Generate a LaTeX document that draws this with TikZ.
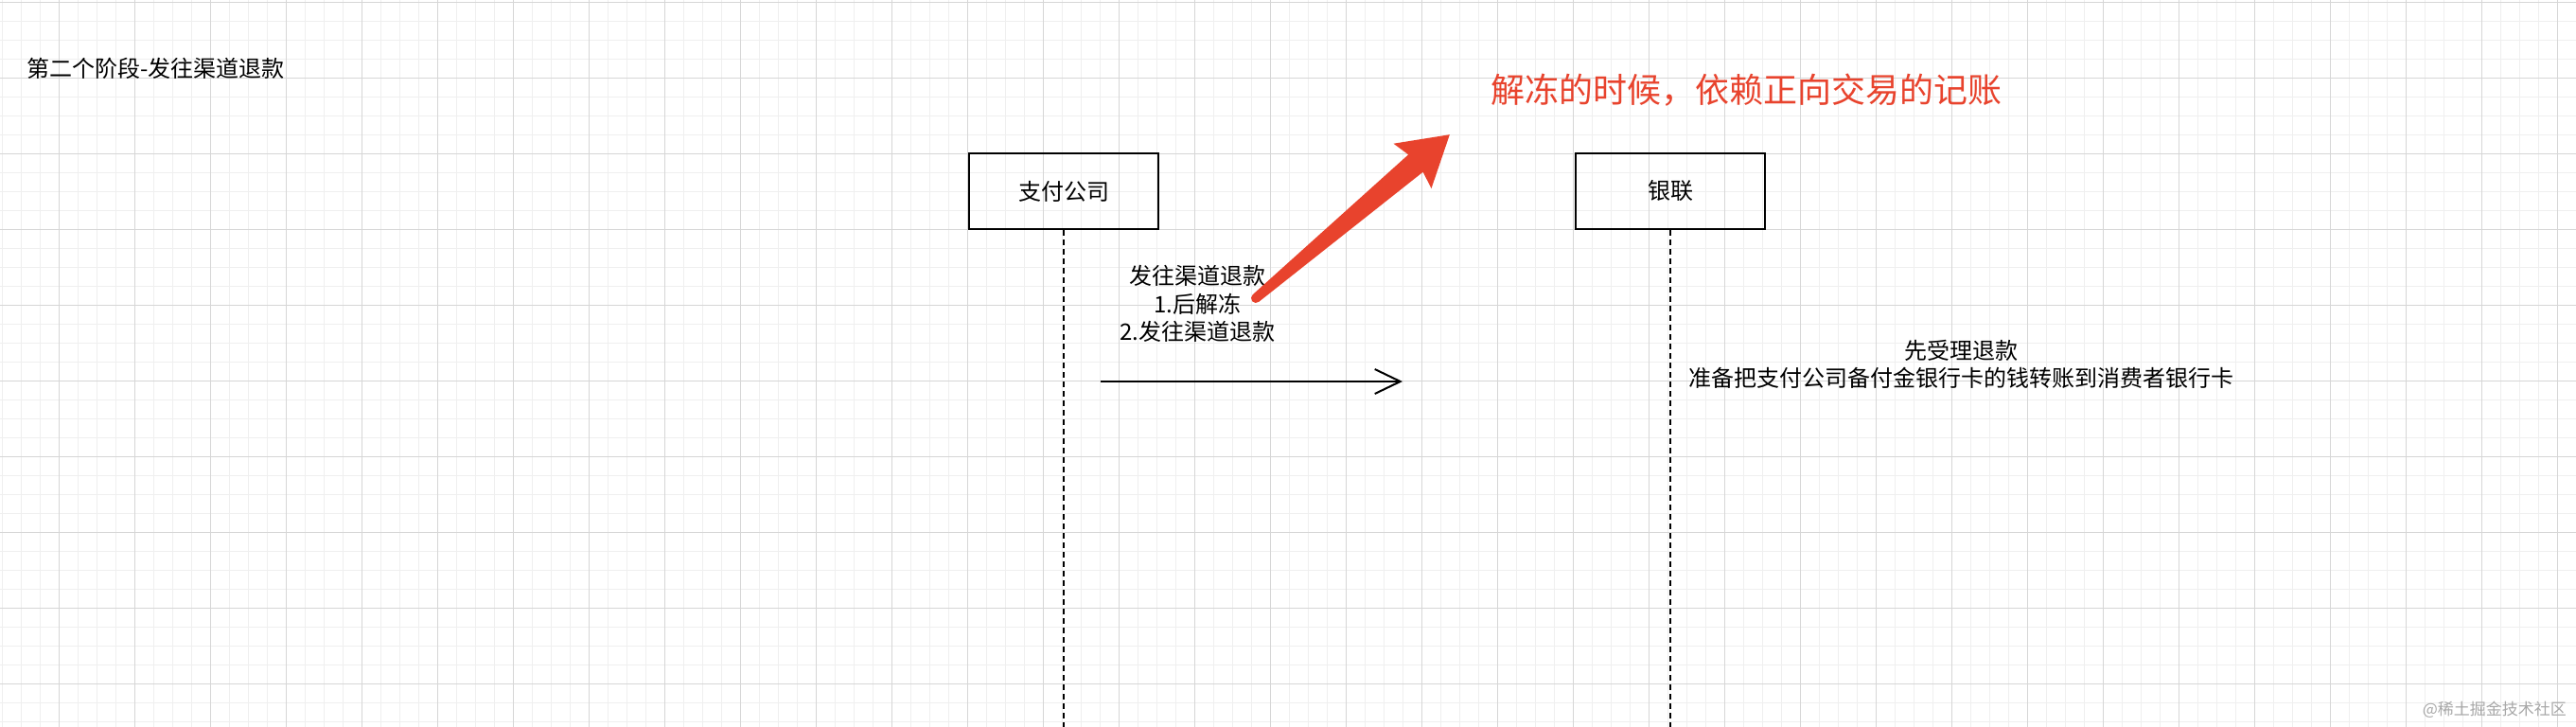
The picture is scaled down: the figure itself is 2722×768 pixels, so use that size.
\documentclass[tikz,border=0pt]{standalone}
\usepackage{fontspec}
\setmainfont{Noto Sans CJK SC}
\usepackage{tikz}
\usetikzlibrary{arrows.meta,calc,positioning}
\definecolor{gridminor}{HTML}{EFEFEF}
\definecolor{gridmajor}{HTML}{D6D6D6}
\definecolor{notered}{HTML}{E8432D}
\definecolor{markgray}{HTML}{A8A8A8}

\begin{document}
\begin{tikzpicture}[x=1pt,y=-1pt,
    actor/.style={draw,line width=2pt,minimum width=200pt,minimum height=80pt,inner sep=0pt,
      font=\fontsize{24pt}{29pt}\selectfont},
    lifeline/.style={line width=2pt,dash pattern=on 6pt off 4pt},
    msgtext/.style={align=center,inner sep=0pt,font=\fontsize{24pt}{29.5pt}\selectfont},
    msgline/.style={line width=2pt,-{Straight Barb[length=27pt,width=26pt,line width=2pt]}}]
  \useasboundingbox (0,0) rectangle (2722,768);
  \fill[white] (0,0) rectangle (2722,768);
  \foreach \i in {0,...,136}
    \draw[gridminor,line width=1pt] (\i*20+2.3,0) -- ++(0,768);
  \foreach \i in {0,...,38}
    \draw[gridminor,line width=1pt] (0,\i*20+2.3) -- ++(2722,0);
  \foreach \i in {0,...,33}
    \draw[gridmajor,line width=1pt] (\i*80+62.3,0) -- ++(0,768);
  \foreach \i in {0,...,9}
    \draw[gridmajor,line width=1pt] (0,\i*80+2.3) -- ++(2722,0);

  \node[anchor=west,inner sep=0pt,font=\fontsize{24pt}{29pt}\selectfont] (title) at (28,72.5) {第二个阶段-发往渠道退款};

  \node[actor] (pay) at (1124,202) {支付公司};
  \node[actor,right=439pt of pay] (bank) {银联};
  \coordinate (bottom) at (0,768);
  \draw[lifeline] (pay.south) -- (pay.south |- bottom);
  \draw[lifeline] (bank.south) -- (bank.south |- bottom);

  \coordinate (msgstart) at (1163,403);
  \coordinate (msgend) at (1482,403);
  \draw[msgline] (msgstart) -- (msgend);
  \node[msgtext] (refund) at (1265,321) {发往渠道退款\\1.后解冻\\2.发往渠道退款};

  \node[msgtext] (accept) at (2072,385) {先受理退款\\准备把支付公司备付金银行卡的钱转账到消费者银行卡};

  \node[inner sep=0pt,text=notered,font=\fontsize{36pt}{40pt}\selectfont] (unfreeze) at (1845,95) {解冻的时候，依赖正向交易的记账};
  \coordinate (tail) at (1327,315);
  \begin{scope}[shift={(tail)},rotate=40.15,x=1pt,y=1pt]
    \fill[notered] (0,5) -- (221,12) -- (216.5,31) -- (268,0) -- (216.5,-31) -- (221,-12) -- (0,-5)
      arc (-90:-270:5) -- cycle;
  \end{scope}

  \node[anchor=east,inner sep=0pt,text=markgray,font=\fontsize{17pt}{20pt}\selectfont] (mark) at (2712,750) {@稀土掘金技术社区};
\end{tikzpicture}
\end{document}
